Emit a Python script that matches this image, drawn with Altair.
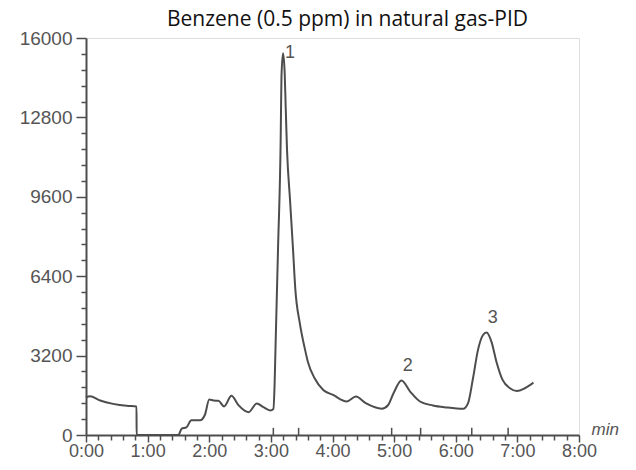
import altair as alt
import pandas as pd

# Chromatogram trace (time in minutes, detector signal)
times = [0.0, 0.065, 0.23, 0.44, 0.66, 0.82, 0.821, 1.50, 1.55, 1.63, 1.71, 1.85, 1.93,
         2.00, 2.07, 2.15, 2.24, 2.36, 2.47, 2.58, 2.64, 2.77, 2.88, 2.99, 3.04, 3.06,
         3.075, 3.116, 3.159, 3.172, 3.197, 3.224, 3.24, 3.262, 3.31, 3.359, 3.396, 3.47,
         3.55, 3.60, 3.71, 3.85, 4.01, 4.23, 4.38, 4.54, 4.80, 4.90, 4.99, 5.12, 5.26,
         5.42, 5.63, 5.85, 6.12, 6.20, 6.28, 6.36, 6.44, 6.50, 6.58, 6.66, 6.76, 6.88,
         6.99, 7.12, 7.26]
signal = [1510, 1560, 1390, 1255, 1175, 1150, 0, 0, 250, 310, 590, 590, 815,
          1430, 1390, 1380, 1150, 1580, 1215, 975, 920, 1270, 1120, 990, 1050, 2000,
          3500, 7500, 11900, 14450, 15385, 14600, 13250, 11500, 9500, 7500, 5900, 4500,
          3490, 2955, 2285, 1815, 1615, 1350, 1550, 1285, 1060, 1200, 1685, 2195, 1750,
          1350, 1190, 1110, 1055, 1285, 2285, 3420, 4020, 4130, 3755, 2955, 2220, 1885,
          1775, 1885, 2110]

# Peak labels
peak_names = ["1", "2", "3"]
peak_times = [3.31, 5.22, 6.60]
peak_label_y = [15400, 2770, 4730]

# Integration event markers
marker_times = [3.04, 3.45, 4.96, 5.43, 6.26, 6.85]

x_ticks = [round(i * 0.2, 1) for i in range(41)]
y_ticks = [i * 640 for i in range(26)]

GRAY = "#4d4d4d"
LABEL = "#555555"

trace = pd.DataFrame({"t": times, "v": signal, "i": range(len(times))})
peaks = pd.DataFrame({"t": peak_times, "v": peak_label_y, "name": peak_names})
markers = pd.DataFrame({"t": marker_times, "v0": [0] * len(marker_times),
                        "v1": [290] * len(marker_times)})

x_scale = alt.Scale(domain=[0, 8], nice=False, zero=False)
y_scale = alt.Scale(domain=[0, 16000], nice=False)

x_axis = alt.Axis(
    values=x_ticks,
    tickCount=200,
    labelExpr="abs(datum.value - round(datum.value)) < 0.01 ? round(datum.value) + ':00' : ''",
    tickSize={"expr": "abs(datum.value - round(datum.value)) < 0.01 ? 7 : 5"},
    labelOverlap=False,
    labelFlush=False,
    labelPadding=0,
    labelFont="Liberation Sans",
    labelFontSize=18,
    labelColor=LABEL,
    domainColor=GRAY,
    domainWidth=2,
    tickColor=GRAY,
    tickWidth=1.5,
    grid=False,
    title="min",
    titleFont="Liberation Sans",
    titleFontSize=17,
    titleFontStyle="italic",
    titleFontWeight="normal",
    titleColor=LABEL,
    titleAlign="left",
    titleAnchor="start",
    titleBaseline="alphabetic",
    titleX=505,
    titleY=-1,
)

y_axis = alt.Axis(
    values=y_ticks,
    tickCount=200,
    labelExpr="datum.value % 3200 === 0 ? datum.value : ''",
    tickSize={"expr": "datum.value % 3200 === 0 ? 10 : 5"},
    labelOverlap=False,
    labelFlush=False,
    labelPadding=4,
    labelFont="Liberation Sans",
    labelFontSize=19,
    labelColor=LABEL,
    domainColor=GRAY,
    domainWidth=2,
    tickColor=GRAY,
    tickWidth=1.5,
    grid=False,
    title=None,
)

line = alt.Chart(trace).mark_line(color=GRAY, strokeWidth=2, strokeJoin="round",
                                   interpolate="monotone").encode(
    x=alt.X("t:Q", scale=x_scale, axis=x_axis),
    y=alt.Y("v:Q", scale=y_scale, axis=y_axis),
    order="i:Q",
)

marks = alt.Chart(markers).mark_rule(color=GRAY, strokeWidth=1.5).encode(
    x="t:Q", y="v0:Q", y2="v1:Q"
)

labels = alt.Chart(peaks).mark_text(
    font="Liberation Sans", fontSize=18, color=LABEL, baseline="middle", align="center"
).encode(x="t:Q", y="v:Q", text="name:N")

chart = alt.layer(line, marks, labels).properties(
    width=493,
    height=397,
    autosize=alt.AutoSizeParams(type="none"),
    padding={"left": 78, "top": 30, "right": 49, "bottom": 27},
    title=alt.TitleParams(
        "Benzene (0.5 ppm) in natural gas-PID",
        font="Open Sans",
        fontSize=21,
        fontWeight="normal",
        color="#111111",
        anchor="middle",
        offset=-1,
        dx=15,
    ),
).configure_view(stroke=GRAY, strokeWidth=2).configure(background="white")

chart.save("out.html", embed_options={"renderer": "svg", "actions": False})
